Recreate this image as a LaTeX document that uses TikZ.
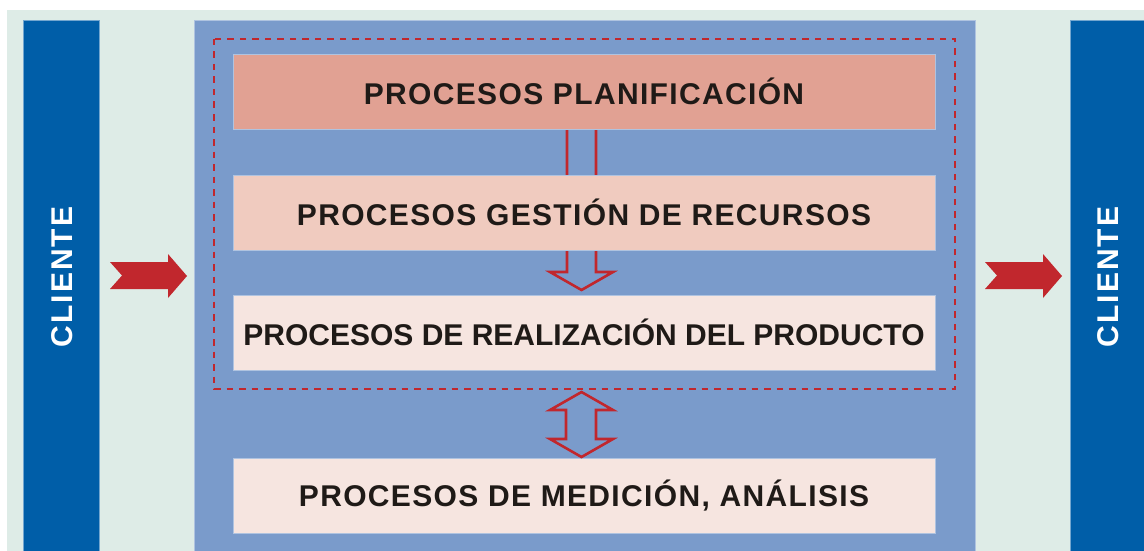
\documentclass[tikz,border=0pt]{standalone}
\usepackage{fontspec}
\setmainfont{Liberation Sans}
\newfontfamily\clientefont{Liberation Sans}[LetterSpace=7]
\newfontfamily\cajafont{Liberation Sans}[LetterSpace=4.5]
\usetikzlibrary{calc}

\definecolor{fondo}{HTML}{DEECE7}
\definecolor{azuloscuro}{HTML}{005EA8}
\definecolor{azulmedio}{HTML}{7A9BCB}
\definecolor{rojo}{HTML}{C1272D}
\definecolor{cajauno}{HTML}{E1A193}
\definecolor{cajados}{HTML}{F0CBBF}
\definecolor{cajatres}{HTML}{F6E5E0}
\definecolor{texto}{HTML}{1F1A17}

\tikzset{
  caja/.style={minimum width=702pt, minimum height=75pt, inner sep=0pt,
    draw=white!40!azulmedio, line width=0.6pt,
    font=\cajafont\fontsize{30}{36}\selectfont\bfseries, text=texto},
  barra/.style={fill=azuloscuro, draw=white!45!azuloscuro, line width=0.6pt,
    minimum width=76pt, minimum height=531pt, inner sep=0pt},
  hueco/.style={draw=rojo, line width=2.6pt, line join=miter},
}

\begin{document}
\begin{tikzpicture}[x=1pt,y=-1pt]
\useasboundingbox (0,0) rectangle (1144,551);
\fill [fondo] (7,10) rectangle (1144,551);

% barras cliente
\node [barra, anchor=north west] (cliizq) at (23,20) {};
\node [barra, anchor=north west, minimum width=74pt] (clider) at (1070,20) {};
\node [rotate=90, text=white, font=\clientefont\fontsize{30}{36}\selectfont\bfseries] (txtizq) at (62,277) {CLIENTE};
\node [rotate=90, text=white, font=\clientefont\fontsize{30}{36}\selectfont\bfseries] (txtder) at (1108,277) {CLIENTE};

% bloque central
\node [fill=azulmedio, draw=white!40!azulmedio, line width=0.6pt, anchor=north west,
  minimum width=781pt, minimum height=531pt, inner sep=0pt] (centro) at (194,20) {};
\draw [rojo, line width=2.8pt, dash pattern=on 6.5pt off 6pt] (214,39) rectangle (955,389);

% flecha hueca detras de recursos
\draw [hueco] (567,129) -- (567,272) -- (550,272) -- (581.5,290) -- (613,272) -- (596,272) -- (596,129);

\node [caja, fill=cajauno] (plan) at (584,91.5) {PROCESOS PLANIFICACIÓN};
\node [caja, fill=cajados] (recursos) at (584,212.5) {PROCESOS GESTIÓN DE RECURSOS};
\node [caja, fill=cajatres, font=\fontsize{30}{36}\selectfont\bfseries] (realiza) at (584,332.5) {PROCESOS DE REALIZACIÓN DEL PRODUCTO};
\node [caja, fill=cajatres] (medida) at (584,495.5) {PROCESOS DE MEDICIÓN, ANÁLISIS};

% doble flecha
\draw [hueco] (581.5,392) -- (613,410) -- (596,410) -- (596,439) -- (613,439) -- (581.5,457)
  -- (550,439) -- (566,439) -- (566,410) -- (550,410) -- cycle;

% flechas rojas
\fill [rojo] (110,262) -- (168,262) -- (168,254) -- (187,276) -- (168,298) -- (168,289) -- (110,289) -- (122,275.5) -- cycle;
\fill [rojo] (985,262) -- (1043,262) -- (1043,254) -- (1062,276) -- (1043,298) -- (1043,289) -- (985,289) -- (997,275.5) -- cycle;
\end{tikzpicture}
\end{document}
